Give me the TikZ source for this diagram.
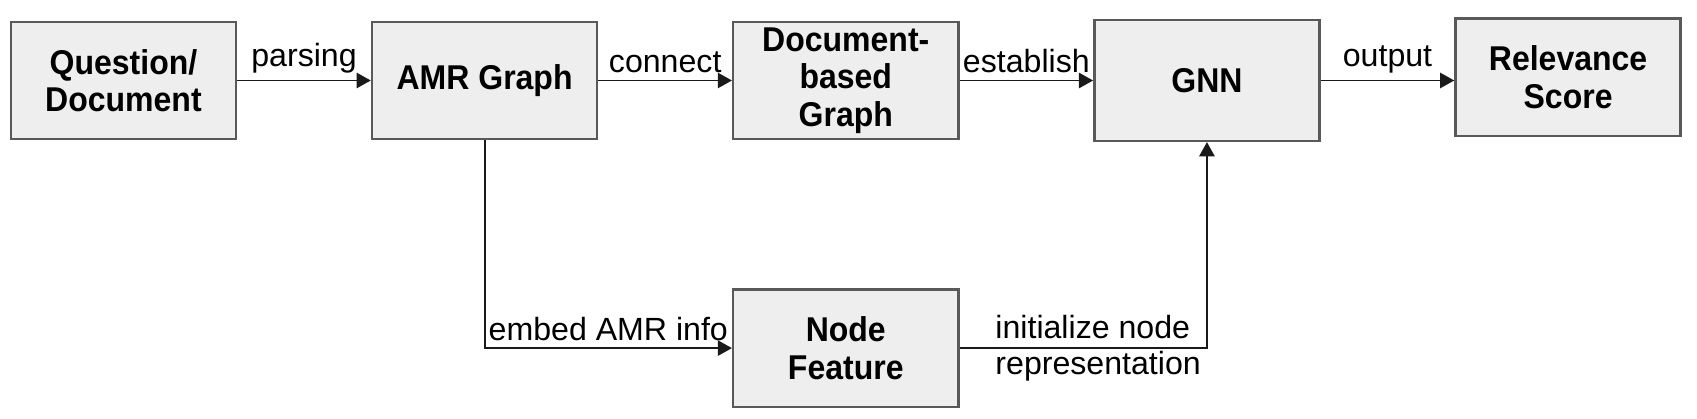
\documentclass[tikz,border=0pt]{standalone}
\usepackage{fontspec}
\setmainfont{Liberation Sans}
\newfontfamily\blockfont[FakeStretch=0.93]{Liberation Sans}
\usepackage{tikz}
\usetikzlibrary{arrows.meta,positioning}

\definecolor{boxfill}{HTML}{EEEEEE}
\definecolor{boxgray}{HTML}{595959}
\definecolor{arrowblack}{HTML}{1A1A1A}

\begin{document}
\begin{tikzpicture}[auto,node distance=6.64cm,
        block/.style={draw=boxgray, line width=1.3pt, fill=boxfill, minimum width=4.14cm, minimum height=2.16cm, inner sep=2pt, align=center, font=\blockfont\fontsize{18}{19.5}\selectfont\bfseries},
        flow/.style={-{Triangle[length=0.26cm,width=0.28cm]}, line width=1pt, draw=arrowblack},
        lbl/.style={font=\fontsize{16.8}{19}\selectfont}]
        \useasboundingbox (0,0) rectangle (31.2,7.7);
        \node[block] (qdoc) at (2.27,6.22) {Question/\\Document};
        \node[block, right of=qdoc] (amr) {AMR Graph};
        \node[block, right of=amr] (dbg) {Document-\\based\\Graph};
        \node[block, right of=dbg, minimum height=2.22cm] (gnn) {GNN};
        \node[block, right of=gnn, yshift=0.06cm] (score) {Relevance\\Score};
        \node[block] (feat) at (15.55,1.3) {Node\\Feature};

        \draw[flow] (qdoc) -- node[above,lbl] {parsing} (amr);
        \draw[flow] (amr) -- node[above,lbl] {connect} (dbg);
        \draw[flow] (dbg) -- node[above,lbl] {establish} (gnn);
        \draw[flow] (gnn.east) -- node[above,lbl] {output} (gnn.east -| score.west);
        \draw[flow] (amr.south) |- node[pos=0.75,above,lbl] {embed AMR info} (feat.west);
        \draw[flow] (feat.east) -| node[pos=0.28,anchor=center,lbl,align=left] {initialize node\\representation} (gnn.south);
    \end{tikzpicture}
\end{document}
